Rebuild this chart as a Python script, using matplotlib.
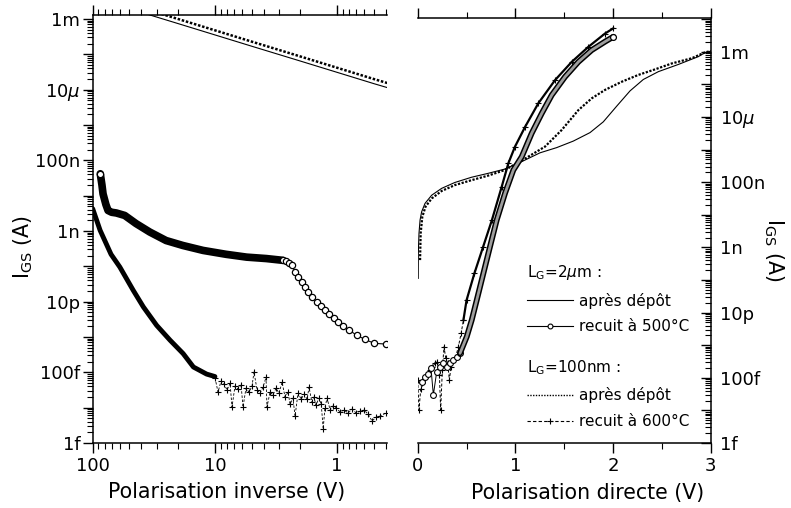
import numpy as np
import matplotlib
matplotlib.use("Agg")
import matplotlib.pyplot as plt
from matplotlib.lines import Line2D
from matplotlib.ticker import LogLocator, FixedLocator, FuncFormatter, NullFormatter, MultipleLocator

plt.rcParams['font.family'] = ['DejaVu Sans']
plt.rcParams['mathtext.fontset'] = 'dejavusans'

# ---------------- data : reverse bias (V, log10 I[A]) ----------------
rev_top_v = [100, 50, 20, 10, 5, 2, 1, 0.5, 0.39]
rev_dep2_logi = [-2.39, -2.71, -3.13, -3.45, -3.77, -4.19, -4.51, -4.83, -4.94]
rev_dep100_logi = [-2.26, -2.58, -3.00, -3.32, -3.64, -4.06, -4.38, -4.70, -4.81]

rev_r500_dense_v = [86.7, 84, 82.3, 78, 74.9, 70, 64.1, 54.7, 44.2, 34.1, 25.1, 18.3,
                    12.5, 8.1, 5.5, 3.8, 2.79]
rev_r500_dense_logi = [-7.38, -7.70, -7.95, -8.25, -8.42, -8.47, -8.49, -8.56, -8.79,
                       -9.03, -9.27, -9.41, -9.55, -9.66, -9.74, -9.78, -9.83]
rev_r500_tail_v = [2.79, 2.6, 2.5, 2.35, 2.21, 2.08, 1.95, 1.83, 1.72, 1.60, 1.47, 1.36,
                   1.26, 1.16, 1.07, 0.977, 0.889, 0.794, 0.692, 0.592, 0.497, 0.398]
rev_r500_tail_logi = [-9.83, -9.86, -9.91, -9.97, -10.16, -10.30, -10.44, -10.58, -10.73,
                      -10.87, -11.01, -11.13, -11.24, -11.34, -11.45, -11.57, -11.69,
                      -11.81, -11.95, -12.07, -12.18, -12.20]

rev_r600_dense_v = [100, 87, 70.8, 60, 46.6, 38.5, 30, 23.3, 18.2, 15, 11.7, 10]
rev_r600_dense_logi = [-8.37, -8.98, -9.66, -10.02, -10.68, -11.15, -11.67, -12.09,
                       -12.47, -12.85, -13.05, -13.12]
rev_r600_noise_v = [9.98, 9.43, 8.92, 8.42, 7.96, 7.52, 7.25, 6.85, 6.47, 6.11, 5.89, 5.57,
                    5.26, 4.97, 4.79, 4.52, 4.27, 4.04, 3.82, 3.75, 3.54, 3.35, 3.16, 2.99,
                    2.82, 2.67, 2.52, 2.43, 2.30, 2.21, 2.09, 1.97, 1.87, 1.76, 1.70, 1.61,
                    1.55, 1.49, 1.41, 1.35, 1.30, 1.26, 1.21, 1.14, 1.08, 1.02, 0.947,
                    0.878, 0.814, 0.755, 0.700, 0.650, 0.602, 0.559, 0.518, 0.481, 0.446,
                    0.398]
rev_r600_noise_logi = [-13.16, -13.56, -13.25, -13.33, -13.50, -13.31, -13.98, -13.39,
                       -13.47, -13.36, -13.98, -13.45, -13.56, -13.39, -12.99, -13.50,
                       -13.59, -13.42, -13.14, -13.98, -13.56, -13.64, -13.45, -13.59,
                       -13.28, -13.70, -13.56, -13.90, -13.73, -14.24, -13.59, -13.76,
                       -13.62, -13.76, -13.42, -13.84, -13.70, -13.93, -13.73, -13.90,
                       -14.60, -14.01, -13.73, -14.07, -13.95, -14.01, -14.12, -14.07,
                       -14.15, -14.04, -14.15, -14.10, -14.07, -14.18, -14.38, -14.27,
                       -14.24, -14.15]

# ---------------- data : forward bias (V, log10 I[A]) ----------------
fwd_dep2_v = [0.005, 0.006, 0.013, 0.024, 0.04, 0.075, 0.143, 0.245, 0.38, 0.55, 0.72, 0.89,
              1.065, 1.252, 1.423, 1.593, 1.764, 1.900, 2.037, 2.174, 2.310, 2.464, 2.668,
              2.873, 2.94, 3.0]
fwd_dep2_logi = [-9.95, -9.18, -8.57, -8.16, -7.91, -7.65, -7.40, -7.19, -7.01, -6.85, -6.73,
                 -6.60, -6.37, -6.10, -5.94, -5.74, -5.48, -5.15, -4.67, -4.20, -3.85, -3.61,
                 -3.39, -3.15, -3.03, -2.98]

fwd_dep100_v = [0.024, 0.03, 0.047, 0.08, 0.143, 0.245, 0.38, 0.55, 0.72, 0.89, 1.065, 1.303,
                1.474, 1.645, 1.781, 1.918, 2.089, 2.259, 2.43, 2.60, 2.805, 2.94, 3.0]
fwd_dep100_logi = [-9.39, -8.57, -8.06, -7.75, -7.50, -7.27, -7.09, -6.94, -6.80, -6.63,
                   -6.34, -5.91, -5.40, -4.79, -4.43, -4.17, -3.92, -3.71, -3.54, -3.36,
                   -3.20, -3.02, -2.98]

fwd_r500_noise_v = [0.041, 0.075, 0.109, 0.136, 0.16, 0.194, 0.228, 0.262, 0.296, 0.33,
                    0.365, 0.399, 0.433]
fwd_r500_noise_logi = [-13.12, -12.97, -12.87, -12.71, -13.53, -12.82, -12.66, -12.56,
                       -12.66, -12.56, -12.46, -12.36, -12.25]
fwd_r500_v = [0.433, 0.502, 0.553, 0.604, 0.672, 0.74, 0.809, 0.894, 0.979, 1.065, 1.167,
              1.27, 1.372, 1.508, 1.645, 1.781, 1.918, 2.003]
fwd_r500_logi = [-12.25, -11.74, -11.23, -10.62, -9.80, -8.98, -8.16, -7.34, -6.63, -6.22,
                 -5.50, -4.89, -4.33, -3.77, -3.31, -2.95, -2.69, -2.54]

fwd_r600_noise_v = [0.0, 0.013, 0.031, 0.047, 0.075, 0.102, 0.126, 0.15, 0.177, 0.201, 0.222,
                    0.235, 0.252, 0.269, 0.287, 0.307, 0.324, 0.341, 0.365, 0.389, 0.416,
                    0.444, 0.468]
fwd_r600_noise_logi = [-13.07, -13.99, -13.33, -13.17, -13.02, -12.87, -12.76, -12.66,
                       -12.56, -12.51, -12.92, -13.99, -12.76, -12.05, -12.40, -12.56,
                       -13.07, -12.66, -12.46, -12.36, -12.05, -11.64, -11.23]
fwd_r600_v = [0.468, 0.50, 0.58, 0.67, 0.76, 0.86, 0.928, 0.996, 1.10, 1.235, 1.406, 1.577,
              1.747, 1.918, 2.003]
fwd_r600_logi = [-11.23, -10.62, -9.80, -8.98, -8.16, -7.14, -6.42, -5.91, -5.30, -4.58,
                 -3.87, -3.31, -2.85, -2.44, -2.28]

ytick_labels = {-15: '1f', -13: '100f', -11: '10p', -9: '1n', -7: '100n',
                -5: '10$\\mu$', -3: '1m'}
xrev_ticks = [100, 10, 1]
xrev_labels = ['100', '10', '1']
xfwd_ticks = [0, 1, 2, 3]
legend_labels_2um = ['après dépôt', 'recuit à 500°C']
legend_labels_100nm = ['après dépôt', 'recuit à 600°C']


def amps(logs):
    return 10.0 ** np.asarray(logs, dtype=float)


TICK_FS = 13
LABEL_FS = 14.8
LEG_FS = 11

fig = plt.figure(figsize=(7.91, 5.08), dpi=100)
axL = fig.add_axes([0.1172, 0.1280, 0.3717, 0.8425])
axR = fig.add_axes([0.5281, 0.1280, 0.3704, 0.8372])

ylab_fmt = FuncFormatter(lambda v, p: ytick_labels.get(int(round(np.log10(v))), '')
                         if v > 0 else '')

# ---------------- left panel ----------------
axL.plot(rev_top_v, amps(rev_dep2_logi), color='k', lw=0.8)
axL.plot(rev_top_v, amps(rev_dep100_logi), color='k', lw=1.8, ls=(0, (1, 0.7)))
axL.plot(rev_r500_dense_v, amps(rev_r500_dense_logi), color='k', lw=5.5,
         solid_capstyle='round', solid_joinstyle='round')
axL.plot(rev_r500_dense_v[:1], amps(rev_r500_dense_logi[:1]), ls='none', marker='o',
         ms=4.5, mfc='white', mec='k', mew=0.9)
axL.plot(rev_r500_tail_v, amps(rev_r500_tail_logi), color='k', lw=0.8, marker='o',
         ms=4.5, mfc='white', mec='k', mew=0.9)
axL.plot(rev_r600_dense_v, amps(rev_r600_dense_logi), color='k', lw=3.5,
         solid_capstyle='round', solid_joinstyle='round')
axL.plot(rev_r600_noise_v, amps(rev_r600_noise_logi), color='k', lw=0.6,
         ls=(0, (3, 2)), marker='+', ms=4, mew=0.8)

axL.set_xscale('log')
axL.set_yscale('log')
axL.set_xlim(100, 0.393)
axL.set_ylim(1e-15, 1.3e-3)
axL.spines['right'].set_visible(False)
axL.xaxis.set_major_locator(FixedLocator(xrev_ticks))
axL.set_xticklabels(xrev_labels)
axL.xaxis.set_minor_locator(LogLocator(base=10, subs=np.arange(2, 10), numticks=20))
axL.xaxis.set_minor_formatter(NullFormatter())
axL.yaxis.set_major_locator(LogLocator(base=10, numticks=30))
axL.yaxis.set_major_formatter(ylab_fmt)
axL.yaxis.set_minor_locator(LogLocator(base=10, subs=np.arange(2, 10), numticks=30))
axL.yaxis.set_minor_formatter(NullFormatter())
axL.tick_params(axis='x', which='both', direction='out', top=True, bottom=True,
                labelsize=TICK_FS, pad=3)
axL.tick_params(axis='y', which='both', direction='out', left=True, right=False,
                labelsize=TICK_FS, pad=2)
axL.tick_params(which='major', length=7, width=1)
axL.tick_params(which='minor', length=4, width=0.8)
axL.set_xlabel('Polarisation inverse (V)', fontsize=LABEL_FS)
axL.xaxis.set_label_coords(0.457, -0.092)
axL.xaxis.label.set_va('top')
axL.set_ylabel('I$_{\\rm GS}$ (A)', fontsize=LABEL_FS)
axL.yaxis.set_label_coords(-0.195, 0.458)

# ---------------- right panel ----------------
axR.plot(fwd_dep2_v, amps(fwd_dep2_logi), color='k', lw=0.8)
axR.plot(fwd_dep100_v, amps(fwd_dep100_logi), color='k', lw=1.6, ls=(0, (1, 0.7)))
axR.plot(fwd_r600_noise_v, amps(fwd_r600_noise_logi), color='k', lw=0.7,
         ls=(0, (3, 2)), marker='+', ms=4, mew=0.8)
axR.plot(fwd_r600_v, amps(fwd_r600_logi), color='k', lw=1.6, marker='+', ms=4, mew=0.8)
axR.plot(fwd_r500_noise_v, amps(fwd_r500_noise_logi), color='k', lw=0.7, marker='o',
         ms=4.2, mfc='white', mec='k', mew=0.8)
axR.plot(fwd_r500_v, amps(fwd_r500_logi), color='k', lw=4.2, solid_capstyle='round')
axR.plot(fwd_r500_v, amps(fwd_r500_logi), color='0.62', lw=2.0, solid_capstyle='round')
axR.plot(fwd_r500_v[-1:], amps(fwd_r500_logi[-1:]), ls='none', marker='o', ms=4.2,
         mfc='white', mec='k', mew=0.9)

axR.set_yscale('log')
axR.set_xlim(0, 3)
axR.set_ylim(1e-15, 1.11e-2)
axR.spines['left'].set_visible(False)
axR.xaxis.set_major_locator(FixedLocator(xfwd_ticks))
axR.xaxis.set_minor_locator(MultipleLocator(0.5))
axR.yaxis.set_major_locator(LogLocator(base=10, numticks=30))
axR.yaxis.set_major_formatter(ylab_fmt)
axR.yaxis.set_minor_locator(LogLocator(base=10, subs=np.arange(2, 10), numticks=30))
axR.yaxis.set_minor_formatter(NullFormatter())
axR.yaxis.set_label_position('right')
axR.yaxis.tick_right()
axR.tick_params(axis='x', which='both', direction='out', top=True, bottom=True,
                labelsize=TICK_FS, pad=3)
axR.tick_params(axis='y', which='both', direction='in', left=False, right=True,
                labelsize=TICK_FS, pad=7)
axR.tick_params(which='major', length=7, width=1)
axR.tick_params(which='minor', length=4, width=0.8)
axR.set_xlabel('Polarisation directe (V)', fontsize=LABEL_FS)
axR.xaxis.set_label_coords(0.58, -0.094)
axR.xaxis.label.set_va('top')
axR.set_ylabel('I$_{\\rm GS}$ (A)', fontsize=LABEL_FS, rotation=270, va='bottom')
axR.yaxis.set_label_coords(1.175, 0.454)

for ax in (axL, axR):
    for s in ax.spines.values():
        s.set_linewidth(1.1)

# ---------------- legends ----------------
h_sol = Line2D([], [], color='k', lw=0.8)
h_circ = Line2D([], [], color='k', lw=0.8, marker='o', ms=3.5, mfc='white', mec='k', mew=0.8)
h_dot = Line2D([], [], color='k', lw=1.0, ls=(0, (1, 1)))
h_plus = Line2D([], [], color='k', lw=0.8, ls=(0, (3, 2)), marker='+', ms=5, mew=0.8)

common = dict(loc='upper left', frameon=False, alignment='left', fontsize=LEG_FS,
              title_fontsize=LEG_FS, handlelength=3.0, handletextpad=0.4,
              labelspacing=0.7, borderpad=0, borderaxespad=0)
leg1 = axR.legend([h_sol, h_circ], legend_labels_2um,
                  title='L$_{\\rm G}$=2$\\mu$m :', bbox_to_anchor=(0.372, 0.423), **common)
axR.add_artist(leg1)
leg2 = axR.legend([h_dot, h_plus], legend_labels_100nm,
                  title='L$_{\\rm G}$=100nm :', bbox_to_anchor=(0.372, 0.200), **common)

fig.savefig('out.png', dpi=100)
